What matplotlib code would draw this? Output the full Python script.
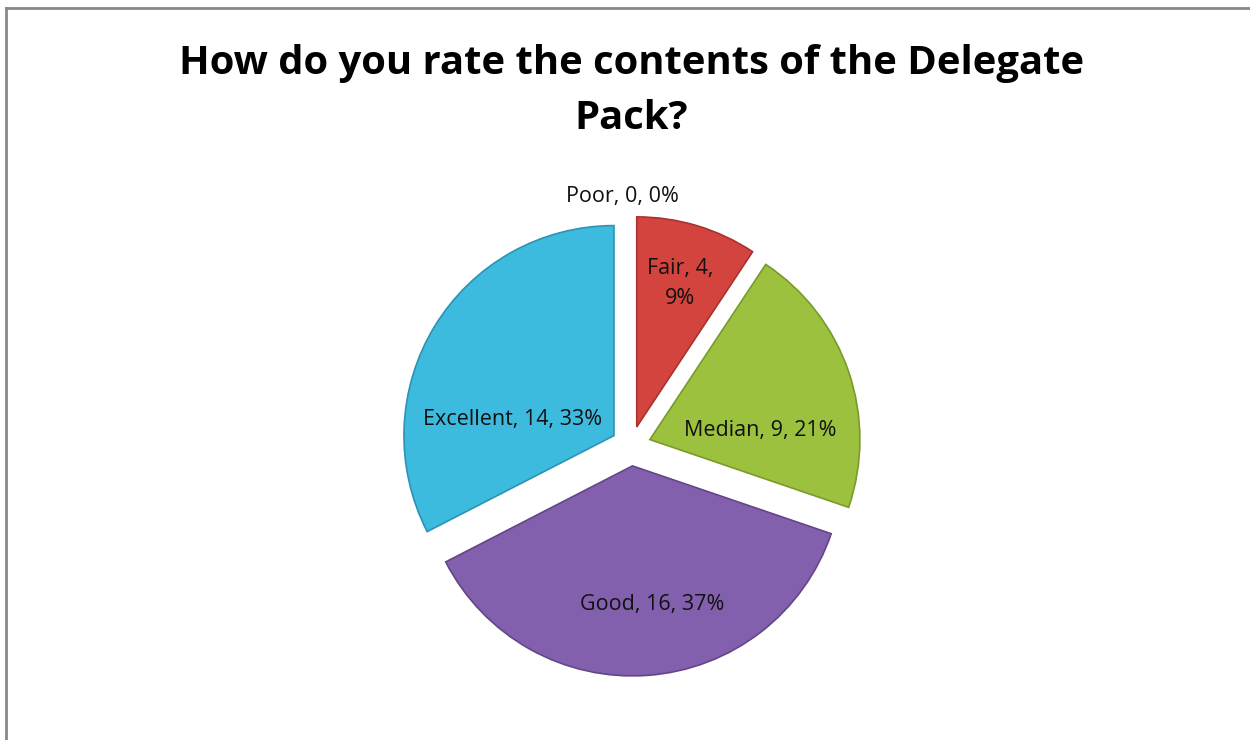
import matplotlib
matplotlib.use("Agg")
import numpy as np
from matplotlib import pyplot as plt
from matplotlib.lines import Line2D

# survey answers, clockwise from the top
categories = ["Poor", "Fair", "Median", "Good", "Excellent"]
counts = [0, 4, 9, 16, 14]
percent_labels = ["0%", "9%", "21%", "37%", "33%"]
title = "How do you rate the contents of the Delegate\nPack?"

colors = ["#4f81bd", "#d4443f", "#9cc13e", "#8360ad", "#3dbbdf"]
edges = ["#3a6394", "#a8322e", "#7a9a2a", "#644688", "#2b93b3"]

# where each label sits: fraction along the wedge angle, distance from centre
label_frac = [0.5, 0.5, 0.34, 0.525, 0.66]
label_dist = [1.19, 0.81, 0.62, 0.76, 0.58]

W, H = 1250, 740
R = 210.0          # pie radius in pixels
cx, cy = 631, 446  # pie centre in pixels

fig = plt.figure(figsize=(W / 100, H / 100), dpi=100)
ax = fig.add_axes([0, 0, 1, 1])

wedges, _ = ax.pie(counts, startangle=90, counterclock=False, colors=colors,
                   explode=[0.095] * len(counts), radius=1.0,
                   wedgeprops=dict(linewidth=1.2))
for w, ec, n in zip(wedges, edges, counts):
    w.set_edgecolor(ec)
    if n == 0:
        w.set_linewidth(0)

ax.set_xlim(-cx / R, (W - cx) / R)
ax.set_ylim(-(H - cy) / R, cy / R)
ax.set_aspect("equal")
ax.axis("off")

for w, cat, n, pct, fr, d in zip(wedges, categories, counts, percent_labels,
                                 label_frac, label_dist):
    ang = np.deg2rad(w.theta1 + fr * (w.theta2 - w.theta1))
    if cat == "Poor":
        ang = np.deg2rad(92)
    txt = f"{cat}, {n}, {pct}"
    if cat == "Fair":
        txt = f"{cat}, {n},\n{pct}"
    ax.text(d * np.cos(ang), d * np.sin(ang), txt, ha="center", va="center",
            fontsize=15.5, family="Open Sans", color="#111111", linespacing=1.55)

fig.text(0.505, 1 - 91 / H, title, ha="center", va="center", fontsize=28.8,
         fontweight="bold", family="Open Sans", linespacing=1.55)

# chart area border (top and left visible)
fig.add_artist(Line2D([6 / W, 6 / W], [0, 1 - 7.5 / H], transform=fig.transFigure,
                      color="#888888", linewidth=2))
fig.add_artist(Line2D([6 / W, 1], [1 - 7.5 / H, 1 - 7.5 / H], transform=fig.transFigure,
                      color="#888888", linewidth=2))

fig.savefig("out.png", dpi=100)
